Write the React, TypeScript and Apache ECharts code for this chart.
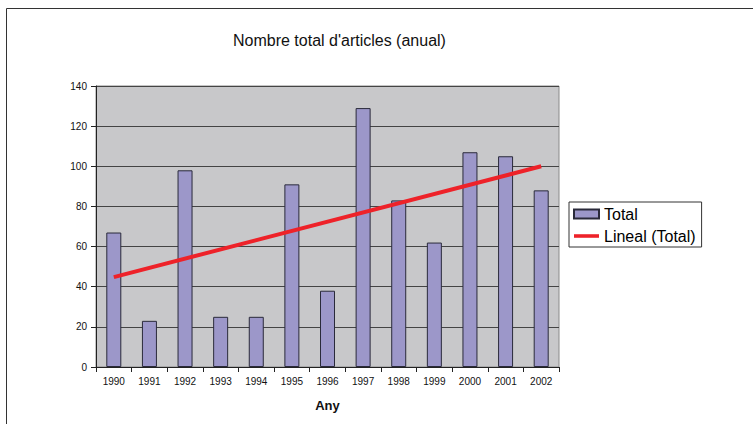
import React, { useEffect, useRef } from "react";
import * as echarts from "echarts";

const years = ["1990", "1991", "1992", "1993", "1994", "1995", "1996", "1997", "1998", "1999", "2000", "2001", "2002"];
const totals = [67, 23, 98, 25, 25, 91, 38, 129, 83, 62, 107, 105, 88];
const trendEnds = [44.8, 100.0];
const yTicks = { min: 0, max: 140, interval: 20 };

export default function App() {
  const ref = useRef<HTMLDivElement>(null);
  useEffect(() => {
    if (!ref.current) return;
    const chart = echarts.init(ref.current, null, { renderer: "svg" });
    const font = "'Liberation Sans', Arial, sans-serif";
    chart.setOption({
      animation: false,
      backgroundColor: "#ffffff",
      textStyle: { fontFamily: font },
      title: {
        text: "Nombre total d'articles (anual)",
        left: 228,
        top: 27,
        textStyle: { fontFamily: font, fontSize: 16, fontWeight: "normal", color: "#111" },
      },
      graphic: [
        {
          type: "rect",
          shape: { x: 6.5, y: 8.5, width: 800, height: 500 },
          style: { fill: "none", stroke: "#333", lineWidth: 1 },
          silent: true,
        },
      ],
      legend: {
        orient: "vertical",
        left: 569,
        top: 202,
        padding: [4, 6, 3, 4],
        itemGap: 6,
        itemWidth: 25,
        itemHeight: 9,
        borderColor: "#333",
        borderWidth: 1,
        backgroundColor: "#fff",
        textStyle: { fontFamily: font, fontSize: 16, lineHeight: 16, color: "#000" },
        data: [
          { name: "Total", icon: "rect" },
          { name: "Lineal (Total)", icon: "path://M0,0H28V4H0Z", itemStyle: { color: "#EE2229" } },
        ],
      },
      grid: {
        left: 96,
        top: 86,
        width: 463,
        height: 281,
        show: true,
        backgroundColor: "#C8C8CA",
        borderColor: "#8a8a8a",
        borderWidth: 1,
        containLabel: false,
      },
      xAxis: {
        type: "category",
        data: years,
        boundaryGap: true,
        name: "Any",
        nameLocation: "middle",
        nameGap: 32,
        nameTextStyle: { fontFamily: font, fontSize: 13, fontWeight: "bold", color: "#111" },
        axisLine: { show: true, lineStyle: { color: "#222", width: 1 } },
        axisTick: { show: true, length: 5, inside: false, alignWithLabel: false, lineStyle: { color: "#222" } },
        axisLabel: { margin: 9, fontSize: 10, color: "#111", interval: 0, fontFamily: font },
        splitLine: { show: false },
      },
      yAxis: {
        type: "value",
        min: yTicks.min,
        max: yTicks.max,
        interval: yTicks.interval,
        axisLine: { show: true, lineStyle: { color: "#222", width: 1 } },
        axisTick: { show: true, length: 5, inside: false, lineStyle: { color: "#222" } },
        axisLabel: { margin: 9, fontSize: 10, color: "#111", fontFamily: font },
        splitLine: { show: true, lineStyle: { color: "#444", width: 1 } },
      },
      series: [
        {
          name: "Total",
          type: "bar",
          data: totals,
          barWidth: 15,
          itemStyle: { color: "#9C97C9", borderColor: "#2a2a3a", borderWidth: 1 },
          z: 2,
        },
        {
          name: "Lineal (Total)",
          type: "line",
          data: [
            [years[0], trendEnds[0]],
            [years[years.length - 1], trendEnds[1]],
          ],
          symbol: "none",
          lineStyle: { color: "#EE2229", width: 4 },
          itemStyle: { color: "#EE2229" },
          z: 3,
        },
      ],
    });
    return () => chart.dispose();
  }, []);
  return <div ref={ref} style={{ position: "fixed", left: 0, top: 0, width: 753, height: 424 }} />;
}
